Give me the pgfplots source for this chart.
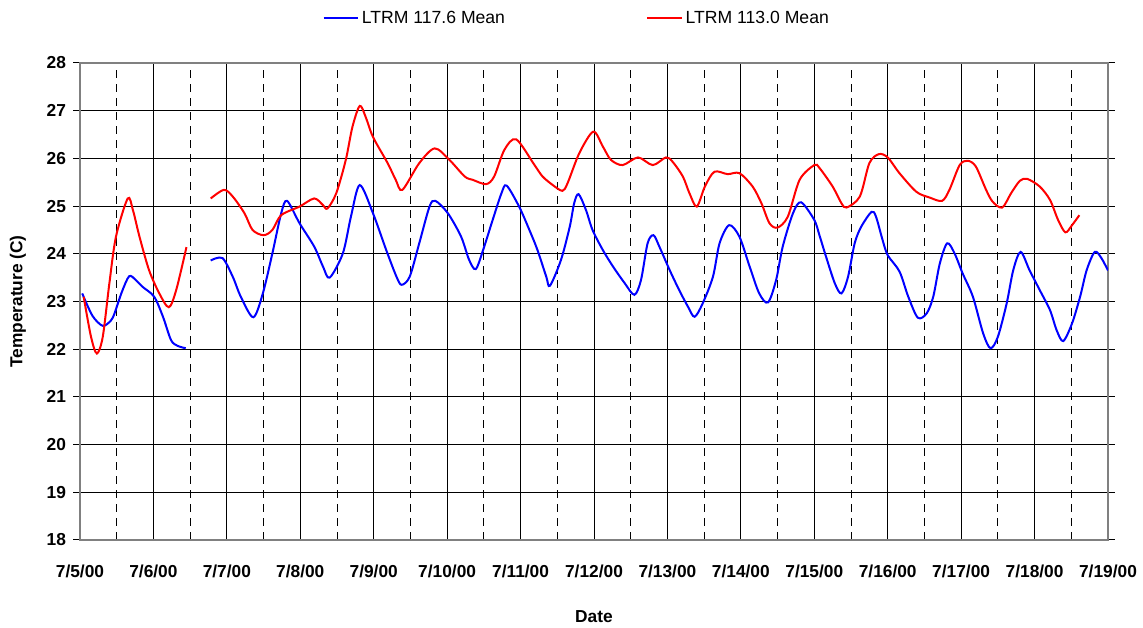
\documentclass[border=0pt]{standalone}
\usepackage{pgfplots}
\pgfplotsset{compat=1.18}
\usepackage{fontspec}
\setmainfont{Liberation Sans}

\begin{document}
\begin{tikzpicture}
\begin{axis}[
    scale only axis,
    width=771pt, height=357.75pt,
    xmin=0, xmax=14, ymin=18, ymax=28,
    xtick={0,...,14},
    xticklabels={7/5/00,7/6/00,7/7/00,7/8/00,7/9/00,7/10/00,7/11/00,7/12/00,7/13/00,7/14/00,7/15/00,7/16/00,7/17/00,7/18/00,7/19/00},
    minor xtick={0.5,1.5,...,13.5},
    ytick={18,...,28},
    xmajorgrids, xminorgrids, ymajorgrids,
    major grid style={black, line width=0.75pt},
    minor grid style={black, line width=0.75pt, dash pattern=on 6pt off 4.5pt},
    axis line style={gray, line width=1.5pt},
    tick align=outside,
    x tick style={draw=none},
    y tick style={black, line width=0.75pt},
    major tick length=5pt,
    minor tick length=0pt,
    /pgf/number format/assume math mode=true,
    ticklabel style={font=\bfseries\fontsize{13}{15}\selectfont},
    xticklabel style={yshift=-10pt},
    yticklabel style={xshift=-2pt},
    xlabel={Date},
    ylabel={Temperature (C)},
    label style={font=\bfseries\fontsize{13}{15}\selectfont},
    xlabel style={at={(axis description cs:0.5,0)}, anchor=center, yshift=-57.75pt},
    ylabel style={at={(axis description cs:0,0.5)}, anchor=center, yshift=46.5pt},
    legend style={at={(axis description cs:0.4835,1.0944)}, anchor=center,
        draw=none, fill=none, legend columns=2,
        font=\fontsize{13.2}{15}\selectfont,
        /tikz/every even column/.append style={column sep=104pt}},
    legend image code/.code={\draw[#1] (0pt,0pt) -- (26pt,0pt);},
]
\addplot[blue, line width=1.5pt, smooth] coordinates {
(0.03,23.17)(0.17,22.7)(0.31,22.49)(0.42,22.6)(0.47,22.75)(0.57,23.2)(0.67,23.53)(0.76,23.45)(0.85,23.31)(1.01,23.1)(1.13,22.68)(1.24,22.19)(1.33,22.07)(1.44,22.02)
};
\addlegendentry{LTRM 117.6 Mean}
\addplot[red, line width=1.5pt, smooth] coordinates {
(0.05,23.1)(0.15,22.26)(0.23,21.91)(0.31,22.26)(0.40,23.38)(0.49,24.36)(0.65,25.16)(0.72,24.92)(0.81,24.36)(0.94,23.66)(1.08,23.17)(1.21,22.88)(1.31,23.24)(1.45,24.14)
};
\addlegendentry{LTRM 113.0 Mean}
\addplot[blue, line width=1.5pt, smooth, forget plot] coordinates {
(1.78,23.86)(1.94,23.91)(2.08,23.52)(2.19,23.1)(2.36,22.67)(2.49,23.17)(2.62,24.01)(2.74,24.85)(2.82,25.11)(2.99,24.64)(3.19,24.15)(3.31,23.73)(3.40,23.5)(3.58,24.01)(3.69,24.78)(3.81,25.44)(3.99,24.85)(4.17,24.08)(4.31,23.52)(4.38,23.35)(4.49,23.52)(4.62,24.22)(4.76,24.99)(4.84,25.11)(5.01,24.85)(5.19,24.36)(5.30,23.87)(5.39,23.68)(5.49,24.08)(5.62,24.71)(5.74,25.27)(5.81,25.43)(5.98,24.99)(6.12,24.5)(6.23,24.08)(6.35,23.52)(6.40,23.33)(6.55,23.87)(6.67,24.57)(6.73,25.06)(6.79,25.25)(6.89,24.92)(6.98,24.5)(7.12,24.08)(7.26,23.73)(7.42,23.38)(7.55,23.14)(7.64,23.45)(7.73,24.22)(7.81,24.39)(7.89,24.15)(8.03,23.66)(8.16,23.24)(8.28,22.89)(8.37,22.68)(8.48,22.96)(8.62,23.52)(8.71,24.22)(8.84,24.6)(8.98,24.36)(9.12,23.73)(9.25,23.17)(9.37,22.98)(9.48,23.45)(9.57,24.15)(9.71,24.85)(9.82,25.08)(10.0,24.71)(10.07,24.39)(10.16,23.94)(10.28,23.38)(10.37,23.17)(10.46,23.52)(10.55,24.22)(10.64,24.57)(10.78,24.88)(10.84,24.78)(10.93,24.29)(11.00,23.97)(11.16,23.63)(11.28,23.1)(11.41,22.66)(11.53,22.75)(11.62,23.1)(11.71,23.8)(11.81,24.22)(11.91,24.01)(12.02,23.59)(12.16,23.1)(12.30,22.33)(12.40,22.02)(12.50,22.26)(12.62,22.96)(12.71,23.66)(12.81,24.04)(12.93,23.66)(13.07,23.24)(13.21,22.82)(13.30,22.4)(13.39,22.17)(13.51,22.54)(13.62,23.1)(13.71,23.66)(13.82,24.04)(13.91,23.91)(14.0,23.65)
};
\addplot[red, line width=1.5pt, smooth, forget plot] coordinates {
(1.78,25.16)(1.96,25.34)(2.08,25.2)(2.24,24.85)(2.35,24.5)(2.50,24.39)(2.62,24.5)(2.74,24.81)(2.99,24.99)(3.19,25.16)(3.31,25.02)(3.37,24.95)(3.49,25.27)(3.62,25.97)(3.71,26.66)(3.81,27.1)(3.89,26.87)(3.99,26.45)(4.19,25.9)(4.30,25.55)(4.39,25.34)(4.62,25.9)(4.83,26.21)(5.03,25.97)(5.24,25.62)(5.35,25.55)(5.53,25.46)(5.64,25.62)(5.78,26.18)(5.94,26.40)(6.19,25.86)(6.30,25.62)(6.44,25.44)(6.57,25.32)(6.64,25.48)(6.80,26.11)(6.99,26.56)(7.12,26.25)(7.23,25.97)(7.39,25.86)(7.60,26.02)(7.80,25.86)(7.98,26.02)(8.07,25.93)(8.21,25.62)(8.30,25.27)(8.40,24.99)(8.51,25.41)(8.64,25.72)(8.82,25.67)(8.98,25.69)(9.16,25.41)(9.28,25.06)(9.39,24.64)(9.50,24.55)(9.64,24.78)(9.80,25.55)(10.0,25.86)(10.07,25.8)(10.25,25.41)(10.37,25.06)(10.44,24.97)(10.62,25.2)(10.75,25.9)(10.88,26.09)(11.00,26.02)(11.16,25.69)(11.39,25.3)(11.57,25.18)(11.74,25.11)(11.84,25.34)(11.98,25.86)(12.09,25.95)(12.20,25.83)(12.34,25.34)(12.43,25.09)(12.56,24.97)(12.68,25.27)(12.80,25.53)(12.90,25.57)(13.07,25.41)(13.21,25.13)(13.32,24.71)(13.42,24.45)(13.51,24.6)(13.61,24.81)
};
\end{axis}
\path (current axis.south west) ++(-60pt,-66pt) coordinate (bbA);
\path (current axis.north east) ++(26.25pt,47.25pt) coordinate (bbB);
\path[draw=none] (bbA) rectangle (bbB);
\end{tikzpicture}
\end{document}
